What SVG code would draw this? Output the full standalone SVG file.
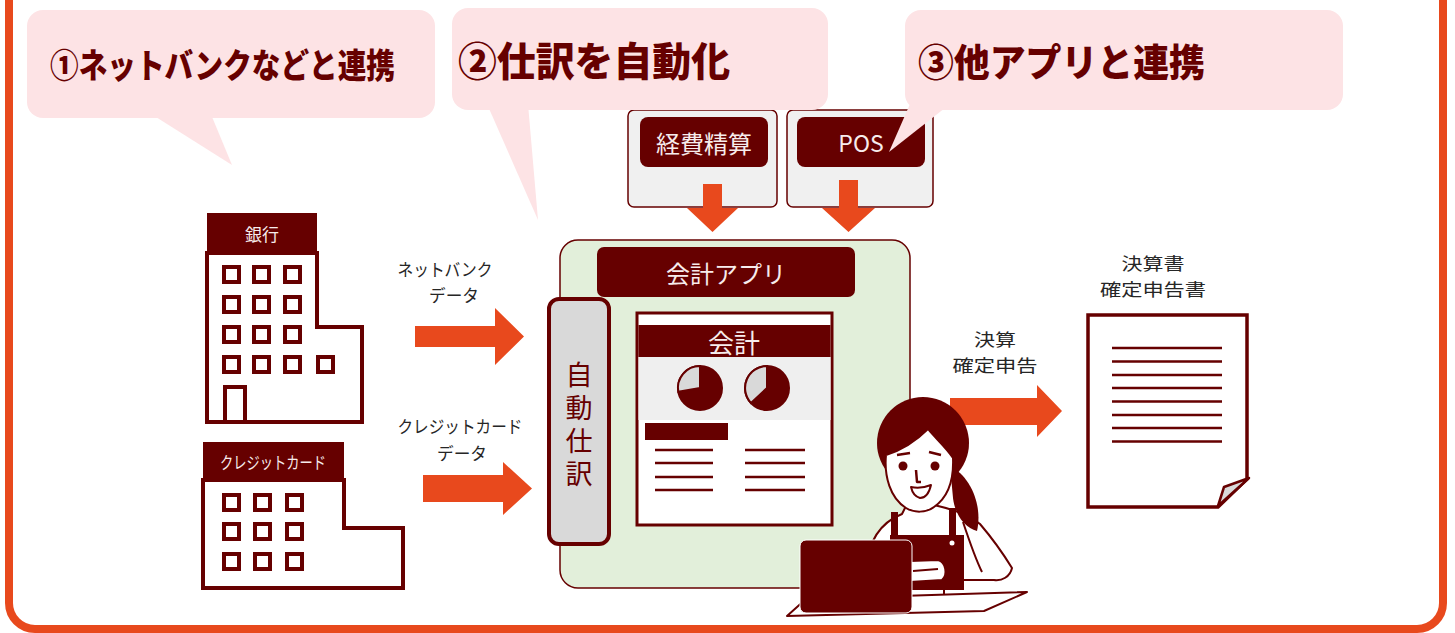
<svg xmlns="http://www.w3.org/2000/svg" width="1455" height="633" viewBox="0 0 1455 633">
  <style>
    .dk { fill: #660000; }
    .ln { fill: none; stroke: #660000; stroke-linecap: butt; }
    .bldg { fill: #ffffff; stroke: #660000; stroke-width: 4; }
    .win { fill: #ffffff; stroke: #660000; stroke-width: 4; }
    .arrow { fill: #E8491D; }
    .bubble { fill: #FDE3E5; }
    .jp { font-family: "Noto Sans CJK JP", "Liberation Sans", sans-serif; }
    .head { font-weight: 900; fill: #660000; }
    .wt { fill: #F7ECEC; }
    .lbl { fill: #262626; font-size: 17.5px; }
  </style>

  <rect width="1455" height="633" fill="#ffffff"/>

  <!-- outer frame -->
  <rect x="9" y="-40" width="1434" height="669" rx="26" fill="none" stroke="#E8491D" stroke-width="8"/>

  <!-- bank -->
  <g id="bank">
    <path class="bldg" d="M207,253 L207,422 L362,422 L362,327 L317,327 L317,253 Z"/>
    <rect class="dk" x="207" y="213" width="110" height="40"/>
    <text class="jp wt" x="262" y="241" font-size="17" text-anchor="middle">銀行</text>
    <g class="win">
      <rect x="224" y="267" width="15" height="15"/><rect x="254" y="267" width="15" height="15"/><rect x="285" y="267" width="15" height="15"/>
      <rect x="224" y="297" width="15" height="15"/><rect x="254" y="297" width="15" height="15"/><rect x="285" y="297" width="15" height="15"/>
      <rect x="224" y="327" width="15" height="15"/><rect x="254" y="327" width="15" height="15"/><rect x="285" y="327" width="15" height="15"/>
      <rect x="224" y="357" width="15" height="15"/><rect x="254" y="357" width="15" height="15"/><rect x="285" y="357" width="15" height="15"/><rect x="318" y="357" width="15" height="15"/>
      <rect x="225" y="387" width="20" height="35"/>
    </g>
  </g>

  <!-- credit card company -->
  <g id="card">
    <path class="bldg" d="M203,480 L203,588 L403,588 L403,528 L344,528 L344,480 Z"/>
    <rect class="dk" x="203" y="442" width="141" height="38"/>
    <text class="jp wt" x="273" y="469" font-size="17" text-anchor="middle" textLength="106" lengthAdjust="spacingAndGlyphs">クレジットカード</text>
    <g class="win">
      <rect x="224" y="495" width="15" height="15"/><rect x="255" y="495" width="15" height="15"/><rect x="287" y="495" width="15" height="15"/>
      <rect x="224" y="524" width="15" height="15"/><rect x="255" y="524" width="15" height="15"/><rect x="287" y="524" width="15" height="15"/>
      <rect x="224" y="554" width="15" height="15"/><rect x="255" y="554" width="15" height="15"/><rect x="287" y="554" width="15" height="15"/>
    </g>
  </g>

  <!-- expense app -->
  <g id="expense">
    <rect x="628" y="110" width="149" height="97" rx="6" fill="#F0F0F0" stroke="#660000" stroke-width="1.5"/>
    <rect class="dk" x="640" y="117" width="128" height="50" rx="8"/>
    <text class="jp wt" x="704" y="153" font-size="24" text-anchor="middle">経費精算</text>
  </g>

  <!-- POS -->
  <g id="pos">
    <rect x="787" y="110" width="146" height="97" rx="6" fill="#F0F0F0" stroke="#660000" stroke-width="1.5"/>
    <rect class="dk" x="797" y="117" width="128" height="50" rx="8"/>
    <text class="jp wt" x="861" y="152" font-size="23" text-anchor="middle">POS</text>
  </g>

  <!-- edge labels -->
  <g id="labels" class="jp lbl" text-anchor="middle">
    <text x="445" y="276" textLength="95" lengthAdjust="spacingAndGlyphs">ネットバンク</text>
    <text x="454" y="302" textLength="50" lengthAdjust="spacingAndGlyphs">データ</text>
    <text x="460" y="433" textLength="125" lengthAdjust="spacingAndGlyphs">クレジットカード</text>
    <text x="462" y="460" textLength="50" lengthAdjust="spacingAndGlyphs">データ</text>
    <text x="995" y="346" textLength="42" lengthAdjust="spacingAndGlyphs">決算</text>
    <text x="995" y="372" textLength="85" lengthAdjust="spacingAndGlyphs">確定申告</text>
  </g>

  <!-- accounting app -->
  <g id="accounting-app">
    <rect x="560" y="240" width="350" height="348" rx="18" fill="#E2EFDA" stroke="#660000" stroke-width="1.5"/>
    <rect class="dk" x="597" y="247" width="258" height="50" rx="7"/>
    <text class="jp wt" x="726" y="283" font-size="24" text-anchor="middle">会計アプリ</text>

    <!-- ledger window -->
    <rect x="637" y="313" width="195" height="212" fill="#ffffff" stroke="#660000" stroke-width="3"/>
    <rect class="dk" x="638.5" y="325" width="192" height="32"/>
    <text class="jp wt" x="734" y="353" font-size="26" text-anchor="middle">会計</text>
    <rect x="638.5" y="357" width="192" height="63" fill="#EFEFEF"/>
    <circle cx="700" cy="388" r="22" fill="#660000" stroke="#660000" stroke-width="2"/>
    <path d="M700,388 L700,366 A22,22 0 0,0 678.3,391.8 Z" fill="#D9D9D9" stroke="#660000" stroke-width="2"/>
    <circle cx="767" cy="388" r="22" fill="#660000" stroke="#660000" stroke-width="2"/>
    <path d="M767,388 L767,366 A22,22 0 0,0 751,403 Z" fill="#D9D9D9" stroke="#660000" stroke-width="2"/>
    <rect class="dk" x="645" y="423" width="83" height="17"/>
    <g class="ln" stroke-width="2.5">
      <path d="M655,450 H713 M655,463 H713 M655,477 H713 M655,490 H713"/>
      <path d="M745,450 H805 M745,463 H805 M745,477 H805 M745,490 H805"/>
    </g>
  </g>

  <!-- automatic journal entry -->
  <g id="auto-journal">
    <rect x="549" y="299" width="60" height="245" rx="10" fill="#D9D9D9" stroke="#660000" stroke-width="4"/>
    <text class="jp" x="579" y="361" fill="#660000" font-size="27" style="writing-mode: vertical-rl; letter-spacing: 6px">自動仕訳</text>
  </g>

  <!-- connectors -->
  <g id="connectors">
    <polygon class="arrow" points="415,326 495,326 495,308 524,336.5 495,365 495,347 415,347"/>
    <polygon class="arrow" points="423,475 503,475 503,462 532,488.5 503,515 503,502 423,502"/>
    <polygon class="arrow" points="703,184 722,184 722,208 738,208 712.5,232 687,208 703,208"/>
    <polygon class="arrow" points="839,180 858,180 858,208 875,208 848.5,232 822,208 839,208"/>
    <polygon class="arrow" points="950,398 1037,398 1037,385 1062,411 1037,437 1037,425 950,425"/>
  </g>

  <!-- statements document -->
  <g id="document">
    <text class="jp lbl" x="1153" y="270" text-anchor="middle" textLength="63" lengthAdjust="spacingAndGlyphs">決算書</text>
    <text class="jp lbl" x="1153" y="296" text-anchor="middle" textLength="106" lengthAdjust="spacingAndGlyphs">確定申告書</text>
    <path d="M1088,315 L1247,315 L1247,479 L1218,507 L1088,507 Z" fill="#ffffff" stroke="#660000" stroke-width="3.5" stroke-linejoin="miter"/>
    <path d="M1218,506 L1224,487 L1249,478 Z" fill="#D9D9D9" stroke="#660000" stroke-width="2.5" stroke-linejoin="round"/>
    <path class="ln" stroke-width="2.5" d="M1112,348 H1222 M1112,361.5 H1222 M1112,375 H1222 M1112,388 H1222 M1112,401.5 H1222 M1112,415 H1222 M1112,428 H1222 M1112,441.5 H1222"/>
  </g>

  <!-- accountant at laptop -->
  <g id="person" stroke-linejoin="round">
    <!-- torso -->
    <path d="M866,570 C868,540 882,522 902,514 L906,506 L934,505 C952,509 968,514 980,524 C992,538 1004,555 1012,568 C1010,577 1002,581 994,580 L944,580 L944,600 L866,600 Z" fill="#ffffff" stroke="#660000" stroke-width="2"/>
    <path class="ln" stroke-width="2" d="M963,522 C969,540 975,558 982,572"/>
    <!-- apron -->
    <rect class="dk" x="890" y="535" width="74" height="55"/>
    <rect class="dk" x="891" y="512" width="7" height="26"/>
    <rect class="dk" x="949" y="508" width="7" height="30"/>
    <circle cx="952" cy="543" r="2.5" fill="#ffffff"/>
    <!-- hand -->
    <path d="M910,561 L938,560 C946,562 948,575 942,580 L910,582 Z" fill="#ffffff" stroke="#660000" stroke-width="2"/>
    <path class="ln" stroke-width="1.8" d="M913,571 L938,569"/>
    <!-- ponytail and hair -->
    <path class="dk" d="M950,466 C970,476 983,505 977,531 C965,528 955,515 953,498 Z"/>
    <circle class="dk" cx="923" cy="443" r="46"/>
    <!-- face -->
    <path d="M886,455 C884,476 890,498 906,508 C914,513 926,513 934,507 C947,498 954,482 953,458 C945,446 935,438 928,429 C916,441 902,450 886,455 Z" fill="#ffffff" stroke="#660000" stroke-width="2"/>
    <circle class="dk" cx="903" cy="466" r="4.5"/>
    <circle class="dk" cx="935" cy="466" r="4.5"/>
    <path class="ln" stroke-width="2.5" stroke-linecap="round" d="M897,455 L910,453 M929,452 L941,455 M916,470 L917,482 L921,482"/>
    <path d="M911,487 Q921,489 931,485 Q928,498 920,498 Q913,496 911,487 Z" fill="#ffffff" stroke="#660000" stroke-width="2"/>
    <!-- desk -->
    <path d="M787,616 L806,599 L1027,592 L984,611 Z" fill="#ffffff" stroke="#660000" stroke-width="2"/>
    <!-- laptop -->
    <rect x="800" y="540" width="112" height="73" rx="6" fill="#660000" stroke="#ffffff" stroke-width="1"/>
  </g>

  <!-- callouts -->
  <g id="callout-1">
    <path class="bubble" d="M148,112 L232,165 L210,112 Z"/>
    <rect class="bubble" x="27" y="10" width="408" height="108" rx="16"/>
    <text class="jp head" x="50" y="78" font-size="34" textLength="345" lengthAdjust="spacingAndGlyphs">①ネットバンクなどと連携</text>
  </g>
  <g id="callout-2">
    <path class="bubble" d="M487,104 L538,220 L528,104 Z"/>
    <rect class="bubble" x="452" y="8" width="376" height="102" rx="16"/>
    <text class="jp head" x="458" y="76" font-size="40" textLength="272" lengthAdjust="spacingAndGlyphs">②仕訳を自動化</text>
  </g>
  <g id="callout-3">
    <path class="bubble" d="M910,104 L889,152 L950,104 Z"/>
    <rect class="bubble" x="905" y="10" width="438" height="100" rx="16"/>
    <text class="jp head" x="918" y="76" font-size="38" textLength="287" lengthAdjust="spacingAndGlyphs">③他アプリと連携</text>
  </g>
</svg>
